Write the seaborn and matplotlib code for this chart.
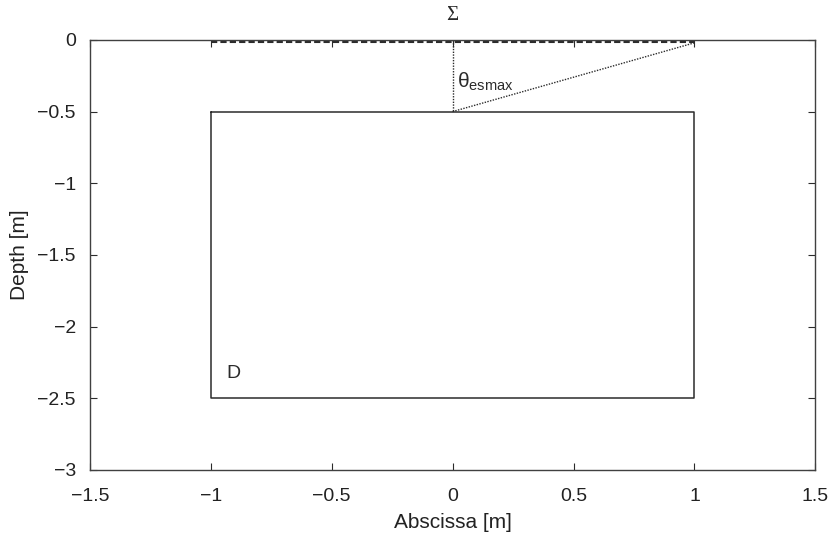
import matplotlib
matplotlib.use("Agg")
import matplotlib.pyplot as plt
import seaborn as sns
import pandas as pd

# geometry of the sketch (metres)
rect_x = [-1, 1, 1, -1, -1]
rect_y = [-0.5, -0.5, -2.5, -2.5, -0.5]
surf_x = [-1, 1]
surf_y = [-0.012, -0.012]
vert_x = [0, 0]
vert_y = [0, -0.5]
slant_x = [0, 1]
slant_y = [-0.5, -0.02]

xticks = [-1.5, -1, -0.5, 0, 0.5, 1, 1.5]
yticks = [-3, -2.5, -2, -1.5, -1, -0.5, 0]

sns.set_style("ticks")
plt.rcParams['font.family'] = ['Liberation Sans', 'DejaVu Sans']
plt.rcParams['mathtext.fontset'] = 'custom'
plt.rcParams['mathtext.rm'] = 'Liberation Sans'
plt.rcParams['mathtext.it'] = 'Liberation Sans:italic'
plt.rcParams['xtick.direction'] = 'in'
plt.rcParams['ytick.direction'] = 'in'

fig = plt.figure(figsize=(8.32, 5.4), dpi=100)
ax = fig.add_axes([0.108, 0.13, 0.872, 0.796])

col = '#2b2b2b'
df_rect = pd.DataFrame({'x': rect_x, 'y': rect_y})
sns.lineplot(data=df_rect, x='x', y='y', sort=False, estimator=None, color=col, lw=1.1, ax=ax)
sns.lineplot(x=surf_x, y=surf_y, sort=False, estimator=None, color=col, lw=1.5,
             linestyle=(0, (3, 1.5)), ax=ax)
sns.lineplot(x=vert_x, y=vert_y, sort=False, estimator=None, color=col, lw=1.0,
             linestyle=(0, (1, 1)), ax=ax)
sns.lineplot(x=slant_x, y=slant_y, sort=False, estimator=None, color=col, lw=1.0,
             linestyle=(0, (1, 1)), ax=ax)

ax.text(0.02, -0.29, r'$\mathrm{\theta}_{\mathrm{esmax}}$', fontsize=15, color=col,
        ha='left', va='center')
ax.text(-0.905, -2.33, 'D', fontsize=14, color=col, ha='center', va='center')
ax.text(0, 0.17, 'Σ', fontsize=15, color=col, ha='center', va='center',
        family=['Liberation Serif', 'DejaVu Serif'], clip_on=False)

def fmt(t):
    return ('%g' % t).replace('-', '\u2212')

ax.set_xlim(-1.5, 1.5)
ax.set_ylim(-3, 0)
ax.set_xticks(xticks)
ax.set_yticks(yticks)
ax.set_xticklabels([fmt(t) for t in xticks])
ax.set_yticklabels([fmt(t) for t in yticks])
ax.tick_params(top=True, right=True, length=5, width=0.8, color=col,
               labelsize=14, labelcolor='#222222')
ax.tick_params(axis='x', pad=13)
ax.tick_params(axis='y', pad=10)
for s in ax.spines.values():
    s.set_visible(True)
    s.set_color('#404040')
    s.set_linewidth(1.0)

ax.set_xlabel('Abscissa [m]', fontsize=15, color='#222222', labelpad=6)
ax.set_ylabel('Depth [m]', fontsize=15, color='#222222', labelpad=6)

fig.savefig('out.png', dpi=100)
